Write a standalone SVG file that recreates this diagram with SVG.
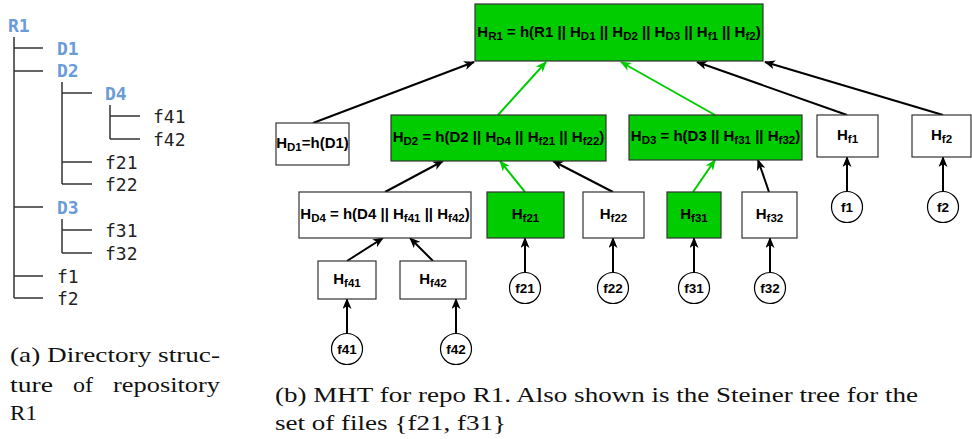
<svg xmlns="http://www.w3.org/2000/svg" width="972" height="439" viewBox="0 0 972 439">
<style>
.tl{stroke:#333;stroke-width:1.5;fill:none}
.td{font-family:"DejaVu Sans Mono","Liberation Mono",monospace;font-size:18px;font-weight:bold;fill:#6a9bd8}
.tf{font-family:"DejaVu Sans Mono","Liberation Mono",monospace;font-size:18px;fill:#222}
.box{fill:#fff;stroke:#333;stroke-width:1.2}
.gbox{fill:#00cc00;stroke:#333;stroke-width:1.2}
.lbl{font-family:"Liberation Sans",Arial,sans-serif;font-weight:bold;font-size:15px;fill:#000;text-anchor:middle}
.sub{font-size:11.5px}
.circ{fill:#fff;stroke:#000;stroke-width:1.2}
.ctx{font-family:"Liberation Sans",Arial,sans-serif;font-weight:bold;font-size:13.5px;fill:#000;text-anchor:middle}
.e{stroke:#000;stroke-width:2;fill:none;marker-end:url(#ab)}
.g{stroke:#00cc00;stroke-width:2;fill:none;marker-end:url(#ag)}
.cap{font-family:"Liberation Serif","Times New Roman",serif;font-size:22px;fill:#111}
</style>
<defs>
<marker id="ab" markerUnits="userSpaceOnUse" markerWidth="11" markerHeight="9" refX="10" refY="4.5" orient="auto"><path d="M0,0 L11,4.5 L0,9 L3,4.5 Z" fill="#000"/></marker>
<marker id="ag" markerUnits="userSpaceOnUse" markerWidth="11" markerHeight="9" refX="10" refY="4.5" orient="auto"><path d="M0,0 L11,4.5 L0,9 L3,4.5 Z" fill="#00cc00"/></marker>
</defs>

<g id="dirtree">
<path class="tl" d="M14,37 V298 M14,48 H43 M14,71 H43 M14,207 H43 M14,276 H43 M14,298 H43 M62,82 V184 M62,93 H92 M62,162 H92 M62,184 H92 M110,105 V139 M110,116 H140 M110,139 H140 M62,219 V253 M62,230 H92 M62,253 H92"/>
<text class="td" x="8" y="32">R1</text>
<text class="td" x="57" y="55">D1</text>
<text class="td" x="57" y="77">D2</text>
<text class="td" x="105" y="100">D4</text>
<text class="tf" x="153" y="123">f41</text>
<text class="tf" x="153" y="146">f42</text>
<text class="tf" x="105" y="169">f21</text>
<text class="tf" x="105" y="191">f22</text>
<text class="td" x="57" y="214">D3</text>
<text class="tf" x="105" y="237">f31</text>
<text class="tf" x="105" y="260">f32</text>
<text class="tf" x="57" y="283">f1</text>
<text class="tf" x="57" y="305">f2</text>
</g>

<g id="connectors">
<line class="e" x1="313" y1="123" x2="474" y2="62"/>
<line class="g" x1="498" y1="115" x2="546" y2="62"/>
<line class="g" x1="715" y1="115" x2="621" y2="62"/>
<line class="e" x1="847" y1="115" x2="697" y2="62"/>
<line class="e" x1="943" y1="115" x2="765" y2="62"/>
<line class="e" x1="385" y1="192" x2="443" y2="161"/>
<line class="g" x1="525" y1="192" x2="500" y2="161"/>
<line class="e" x1="613" y1="192" x2="553" y2="161"/>
<line class="g" x1="693" y1="192" x2="715" y2="160"/>
<line class="e" x1="769" y1="192" x2="758" y2="160"/>
<line class="e" x1="847" y1="191" x2="847" y2="157"/>
<line class="e" x1="943" y1="191" x2="943" y2="157"/>
<line class="e" x1="347" y1="261" x2="383" y2="238"/>
<line class="e" x1="433" y1="261" x2="410" y2="238"/>
<line class="e" x1="525" y1="272" x2="525" y2="238"/>
<line class="e" x1="613" y1="272" x2="613" y2="238"/>
<line class="e" x1="694" y1="272" x2="694" y2="238"/>
<line class="e" x1="770" y1="272" x2="770" y2="238"/>
<line class="e" x1="347" y1="333" x2="347" y2="299"/>
<line class="e" x1="456" y1="333" x2="456" y2="299"/>
</g>

<g id="HR1">
<rect class="gbox" x="475" y="4" width="288" height="57"/>
<text class="lbl" x="619" y="37">H<tspan class="sub" dy="3">R1</tspan><tspan dy="-3"> = h(R1 || H</tspan><tspan class="sub" dy="3">D1</tspan><tspan dy="-3"> || H</tspan><tspan class="sub" dy="3">D2</tspan><tspan dy="-3"> || H</tspan><tspan class="sub" dy="3">D3</tspan><tspan dy="-3"> || H</tspan><tspan class="sub" dy="3">f1</tspan><tspan dy="-3"> || H</tspan><tspan class="sub" dy="3">f2</tspan><tspan dy="-3">)</tspan></text>
</g>
<g id="HD1">
<rect class="box" x="276" y="123" width="73" height="42"/>
<text class="lbl" x="312.5" y="148">H<tspan class="sub" dy="3">D1</tspan><tspan dy="-3">=h(D1)</tspan></text>
</g>
<g id="HD2">
<rect class="gbox" x="391" y="115" width="215" height="46"/>
<text class="lbl" x="498.5" y="142">H<tspan class="sub" dy="3">D2</tspan><tspan dy="-3"> = h(D2 || H</tspan><tspan class="sub" dy="3">D4</tspan><tspan dy="-3"> || H</tspan><tspan class="sub" dy="3">f21</tspan><tspan dy="-3"> || H</tspan><tspan class="sub" dy="3">f22</tspan><tspan dy="-3">)</tspan></text>
</g>
<g id="HD3">
<rect class="gbox" x="629" y="115" width="173" height="45"/>
<text class="lbl" x="715.5" y="141">H<tspan class="sub" dy="3">D3</tspan><tspan dy="-3"> = h(D3 || H</tspan><tspan class="sub" dy="3">f31</tspan><tspan dy="-3"> || H</tspan><tspan class="sub" dy="3">f32</tspan><tspan dy="-3">)</tspan></text>
</g>
<g id="Hf1">
<rect class="box" x="817" y="115" width="61" height="42"/>
<text class="lbl" x="847.5" y="140">H<tspan class="sub" dy="3">f1</tspan></text>
</g>
<g id="Hf2">
<rect class="box" x="912" y="115" width="59" height="42"/>
<text class="lbl" x="941.5" y="140">H<tspan class="sub" dy="3">f2</tspan></text>
</g>
<g id="HD4">
<rect class="box" x="299" y="192" width="172" height="46"/>
<text class="lbl" x="385" y="219">H<tspan class="sub" dy="3">D4</tspan><tspan dy="-3"> = h(D4 || H</tspan><tspan class="sub" dy="3">f41</tspan><tspan dy="-3"> || H</tspan><tspan class="sub" dy="3">f42</tspan><tspan dy="-3">)</tspan></text>
</g>
<g id="Hf21">
<rect class="gbox" x="487" y="192" width="77" height="46"/>
<text class="lbl" x="525.5" y="219">H<tspan class="sub" dy="3">f21</tspan></text>
</g>
<g id="Hf22">
<rect class="box" x="583" y="192" width="61" height="46"/>
<text class="lbl" x="613.5" y="219">H<tspan class="sub" dy="3">f22</tspan></text>
</g>
<g id="Hf31">
<rect class="gbox" x="667" y="192" width="54" height="46"/>
<text class="lbl" x="694" y="219">H<tspan class="sub" dy="3">f31</tspan></text>
</g>
<g id="Hf32">
<rect class="box" x="742" y="192" width="55" height="46"/>
<text class="lbl" x="769.5" y="219">H<tspan class="sub" dy="3">f32</tspan></text>
</g>
<g id="Hf41">
<rect class="box" x="318" y="261" width="58" height="38"/>
<text class="lbl" x="347" y="284">H<tspan class="sub" dy="3">f41</tspan></text>
</g>
<g id="Hf42">
<rect class="box" x="400" y="261" width="66" height="38"/>
<text class="lbl" x="433" y="284">H<tspan class="sub" dy="3">f42</tspan></text>
</g>

<g id="f1"><circle class="circ" cx="847" cy="207" r="15.5"/><text class="ctx" x="847" y="212">f1</text></g>
<g id="f2"><circle class="circ" cx="943" cy="207" r="15.5"/><text class="ctx" x="943" y="212">f2</text></g>
<g id="f21"><circle class="circ" cx="525" cy="288" r="15.5"/><text class="ctx" x="525" y="293">f21</text></g>
<g id="f22"><circle class="circ" cx="613" cy="288" r="15.5"/><text class="ctx" x="613" y="293">f22</text></g>
<g id="f31"><circle class="circ" cx="694" cy="288" r="15.5"/><text class="ctx" x="694" y="293">f31</text></g>
<g id="f32"><circle class="circ" cx="770" cy="288" r="15.5"/><text class="ctx" x="770" y="293">f32</text></g>
<g id="f41"><circle class="circ" cx="347" cy="349" r="15.5"/><text class="ctx" x="347" y="354">f41</text></g>
<g id="f42"><circle class="circ" cx="456" cy="349" r="15.5"/><text class="ctx" x="456" y="354">f42</text></g>

<g id="captions">
<text class="cap" x="10" y="362" textLength="210" lengthAdjust="spacingAndGlyphs">(a) Directory struc-</text>
<text class="cap" y="392"><tspan x="10" textLength="43" lengthAdjust="spacingAndGlyphs">ture</tspan> <tspan x="73" textLength="20" lengthAdjust="spacingAndGlyphs">of</tspan> <tspan x="113" textLength="107" lengthAdjust="spacingAndGlyphs">repository</tspan></text>
<text class="cap" x="10" y="420" textLength="27" lengthAdjust="spacingAndGlyphs">R1</text>
<text class="cap" x="275" y="402" textLength="643" lengthAdjust="spacingAndGlyphs">(b) MHT for repo R1. Also shown is the Steiner tree for the</text>
<text class="cap" x="275" y="430" textLength="231" lengthAdjust="spacingAndGlyphs">set of files {f21, f31}</text>
</g>
</svg>
